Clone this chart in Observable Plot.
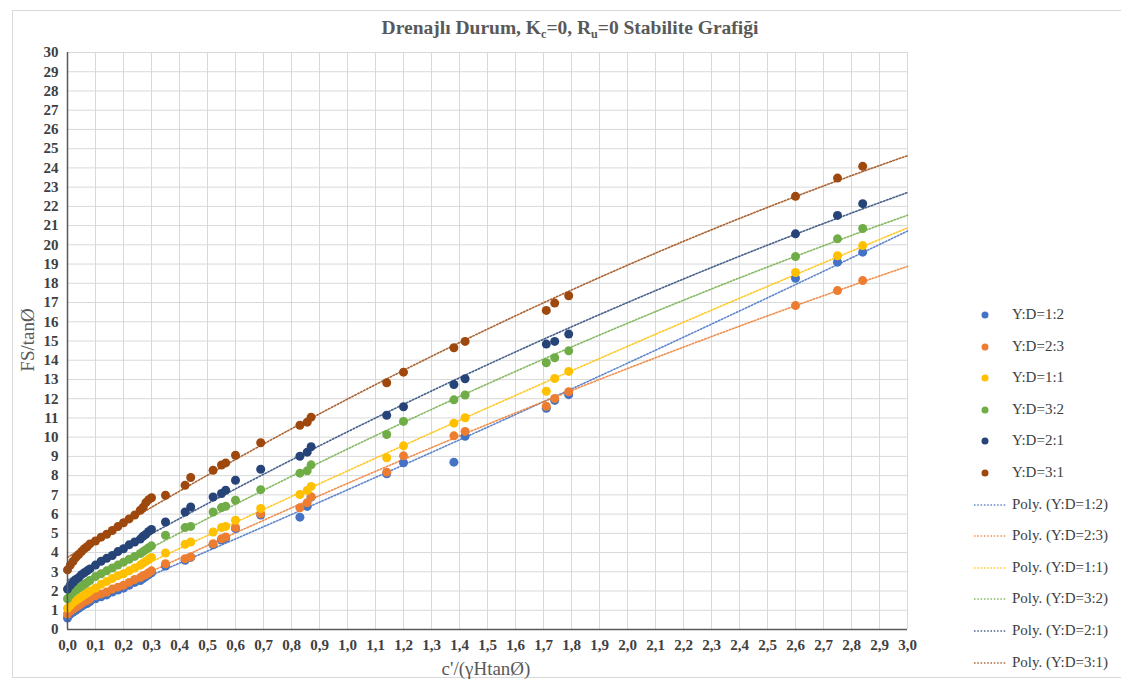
<!DOCTYPE html>
<html>
<head>
<meta charset="utf-8">
<script src="https://cdn.jsdelivr.net/npm/d3@7"></script>
<script src="https://cdn.jsdelivr.net/npm/@observablehq/plot@0.6"></script>
<style>
  html, body { margin: 0; padding: 0; background: #fff; }
  #wrap { position: relative; width: 1121px; height: 684px; overflow: hidden; font-family: "Liberation Serif", "Times New Roman", "DejaVu Serif", serif; }
  #frame { position: absolute; left: 12px; top: 10px; width: 1120px; height: 668px; border: 1px solid #d9d9d9; box-sizing: border-box; }
  #title { position: absolute; left: 0; width: 1140px; top: 17px; text-align: center; font-weight: bold; font-size: 19.5px; color: #595959; }
  #title sub { font-size: 12px; vertical-align: -4px; line-height: 0; }
  #ylab { position: absolute; left: 28px; top: 340px; transform: translate(-50%, -50%) rotate(-90deg); font-size: 19px; color: #595959; white-space: nowrap; }
  #xlab { position: absolute; left: 486px; top: 669px; transform: translate(-50%, -50%); font-size: 19px; color: #595959; white-space: nowrap; }
  #legend { position: absolute; left: 970px; top: 305px; }
  .row { position: absolute; left: 0; height: 20px; width: 150px; font-size: 15px; color: #404040; white-space: nowrap; }
  .row svg { position: absolute; left: 0; top: 0; }
  .row span { position: absolute; left: 42px; top: 1px; }
  svg#chart { position: absolute; left: 0; top: 0; }
</style>
</head>
<body>
<div id="wrap">
  <div id="frame"></div>
  <div id="title">Drenajlı Durum, K<sub>c</sub>=0, R<sub>u</sub>=0 Stabilite Grafiği</div>
  <div id="ylab">FS/tanØ</div>
  <div id="xlab">c'/(γHtanØ)</div>
  <div id="legend"></div>
</div>
<script>
// x values shared by all series
const xVals = [0, 0.01, 0.02, 0.03, 0.04, 0.05, 0.06, 0.07, 0.08, 0.10, 0.12, 0.14, 0.16, 0.18, 0.20, 0.22, 0.24, 0.26, 0.27, 0.28, 0.29, 0.30,
  0.35, 0.42, 0.44, 0.52, 0.55, 0.565, 0.60, 0.69, 0.83, 0.856, 0.87, 1.14, 1.20, 1.38, 1.42, 1.71, 1.74, 1.79, 2.60, 2.75, 2.84];

const seriesNames = ["Y:D=1:2", "Y:D=2:3", "Y:D=1:1", "Y:D=3:2", "Y:D=2:1", "Y:D=3:1"];
const seriesColors = ["#4472C4", "#ED7D31", "#FFC000", "#70AD47", "#264478", "#9E480E"];

const yBlue = [0.6, 0.8, 0.9, 1.0, 1.1, 1.2, 1.3, 1.35, 1.45, 1.6, 1.7, 1.8, 1.95, 2.05, 2.15, 2.3, 2.45, 2.55, 2.65, 2.75, 2.85, 2.95,
  3.3, 3.6, 3.75, 4.4, 4.65, 4.75, 5.25, 5.95, 5.84, 6.40, 6.88, 8.1, 8.67, 8.70, 10.05, 11.5, 11.91, 12.21, 18.26, 19.10, 19.62];
const yOrange = [0.8, 0.95, 1.05, 1.15, 1.25, 1.35, 1.45, 1.5, 1.6, 1.75, 1.85, 1.95, 2.1, 2.2, 2.3, 2.45, 2.6, 2.7, 2.8, 2.85, 2.95, 3.05,
  3.42, 3.68, 3.77, 4.46, 4.72, 4.81, 5.3, 6.02, 6.33, 6.59, 6.9, 8.18, 9.03, 10.07, 10.30, 11.61, 12.01, 12.36, 16.84, 17.62, 18.14];
const yYellow = [1.1, 1.25, 1.4, 1.5, 1.6, 1.7, 1.8, 1.9, 2.0, 2.15, 2.35, 2.5, 2.65, 2.8, 2.9, 3.05, 3.2, 3.35, 3.45, 3.55, 3.65, 3.75,
  3.98, 4.43, 4.55, 5.07, 5.30, 5.36, 5.68, 6.29, 7.02, 7.23, 7.44, 8.93, 9.55, 10.73, 11.01, 12.39, 13.05, 13.42, 18.56, 19.43, 19.96];
const yGreen = [1.6, 1.8, 1.95, 2.05, 2.15, 2.25, 2.35, 2.45, 2.55, 2.75, 2.9, 3.05, 3.2, 3.35, 3.5, 3.65, 3.8, 3.95, 4.05, 4.15, 4.25, 4.35,
  4.9, 5.3, 5.36, 6.11, 6.34, 6.41, 6.72, 7.27, 8.13, 8.25, 8.56, 10.14, 10.82, 11.94, 12.19, 13.87, 14.13, 14.49, 19.39, 20.31, 20.85];
const yNavy = [2.1, 2.3, 2.45, 2.6, 2.7, 2.85, 2.95, 3.05, 3.15, 3.35, 3.55, 3.7, 3.85, 4.05, 4.2, 4.4, 4.55, 4.7, 4.85, 4.95, 5.1, 5.2,
  5.59, 6.11, 6.37, 6.89, 7.07, 7.24, 7.76, 8.33, 9.01, 9.22, 9.50, 11.14, 11.58, 12.74, 13.04, 14.84, 14.98, 15.36, 20.57, 21.53, 22.14];
const yBrown = [3.1, 3.35, 3.55, 3.75, 3.9, 4.05, 4.2, 4.3, 4.45, 4.6, 4.8, 4.95, 5.15, 5.35, 5.55, 5.75, 5.95, 6.2, 6.35, 6.6, 6.75, 6.85,
  6.98, 7.5, 7.9, 8.28, 8.55, 8.66, 9.06, 9.71, 10.62, 10.78, 11.04, 12.83, 13.38, 14.65, 14.98, 16.59, 16.97, 17.35, 22.52, 23.47, 24.08];

const seriesY = [yBlue, yOrange, yYellow, yGreen, yNavy, yBrown];

const xTicks = [0.0, 0.1, 0.2, 0.3, 0.4, 0.5, 0.6, 0.7, 0.8, 0.9, 1.0, 1.1, 1.2, 1.3, 1.4, 1.5, 1.6, 1.7, 1.8, 1.9, 2.0,
  2.1, 2.2, 2.3, 2.4, 2.5, 2.6, 2.7, 2.8, 2.9, 3.0];
const yTicks = [0, 1, 2, 3, 4, 5, 6, 7, 8, 9, 10, 11, 12, 13, 14, 15, 16, 17, 18, 19, 20, 21, 22, 23, 24, 25, 26, 27, 28, 29, 30];

// build table
const points = [];
seriesNames.forEach((name, s) => {
  xVals.forEach((x, i) => points.push({series: name, x, y: seriesY[s][i]}));
});

// polynomial (order 2) trendlines, least squares, like Excel's "Poly."
function polyFit(xs, ys, order) {
  const n = order + 1;
  const A = Array.from({length: n}, () => new Array(n + 1).fill(0));
  xs.forEach((x, i) => {
    for (let r = 0; r < n; r++) {
      for (let c = 0; c < n; c++) A[r][c] += Math.pow(x, r + c);
      A[r][n] += ys[i] * Math.pow(x, r);
    }
  });
  for (let c = 0; c < n; c++) {
    for (let r = c + 1; r < n; r++) {
      const f = A[r][c] / A[c][c];
      for (let k = c; k <= n; k++) A[r][k] -= f * A[c][k];
    }
  }
  const coef = new Array(n).fill(0);
  for (let r = n - 1; r >= 0; r--) {
    let v = A[r][n];
    for (let k = r + 1; k < n; k++) v -= A[r][k] * coef[k];
    coef[r] = v / A[r][r];
  }
  return coef;
}
const trend = [];
seriesNames.forEach((name, s) => {
  const coef = polyFit(xVals, seriesY[s], 2);
  for (let i = 0; i <= 150; i++) {
    const x = i * 0.02;
    trend.push({series: name, x, y: coef.reduce((acc, c, k) => acc + c * Math.pow(x, k), 0)});
  }
});

const colorOf = d3.scaleOrdinal(seriesNames, seriesColors);

const chart = Plot.plot({
  width: 1121,
  height: 684,
  marginLeft: 67,
  marginRight: 214,
  marginTop: 52,
  marginBottom: 55,
  style: {fontFamily: "'Liberation Serif', 'Times New Roman', serif", fontSize: "15px", color: "#595959", background: "transparent"},
  x: {domain: [0, 3], label: null},
  y: {domain: [0, 30], label: null},
  marks: [
    Plot.gridX(xTicks, {stroke: "#d9d9d9", strokeOpacity: 1, strokeWidth: 1}),
    Plot.gridY(yTicks, {stroke: "#d9d9d9", strokeOpacity: 1, strokeWidth: 1}),
    Plot.axisX({ticks: xTicks, tickSize: 0, tickPadding: 10, tickFormat: d => d.toFixed(1).replace(".", ","), label: null, fill: "#404040", fontWeight: "bold"}),
    Plot.axisY({ticks: yTicks, tickSize: 0, tickPadding: 9, tickFormat: d => String(d), label: null, fill: "#404040", fontWeight: "bold"}),
    Plot.line(trend, {x: "x", y: "y", z: "series", stroke: d => colorOf(d.series), strokeWidth: 1.6, strokeDasharray: "1.5,1.8", strokeOpacity: 0.85}),
    Plot.dot(points, {x: "x", y: "y", r: 4.5, fill: d => colorOf(d.series), stroke: "none"}),
    Plot.ruleX([0], {stroke: "#595959", strokeWidth: 1.5}),
    Plot.ruleY([0], {stroke: "#595959", strokeWidth: 1.5})
  ]
});
chart.id = "chart";
document.getElementById("wrap").prepend(chart);

// legend
const legend = document.getElementById("legend");
const entries = [];
seriesNames.forEach((n, i) => entries.push({type: "dot", label: n, color: seriesColors[i]}));
seriesNames.forEach((n, i) => entries.push({type: "line", label: "Poly. (" + n + ")", color: seriesColors[i]}));
entries.forEach((e, i) => {
  const row = document.createElement("div");
  row.className = "row";
  row.style.top = (i * 31.6) + "px";
  const sym = e.type === "dot"
    ? `<svg width="40" height="20"><circle cx="15" cy="10" r="3.5" fill="${e.color}"/></svg>`
    : `<svg width="40" height="20"><line x1="4" x2="36" y1="10" y2="10" stroke="${e.color}" stroke-width="1.5" stroke-dasharray="1.5,1.8" stroke-opacity="0.85"/></svg>`;
  row.innerHTML = sym + `<span>${e.label}</span>`;
  legend.appendChild(row);
});
</script>
</body>
</html>
